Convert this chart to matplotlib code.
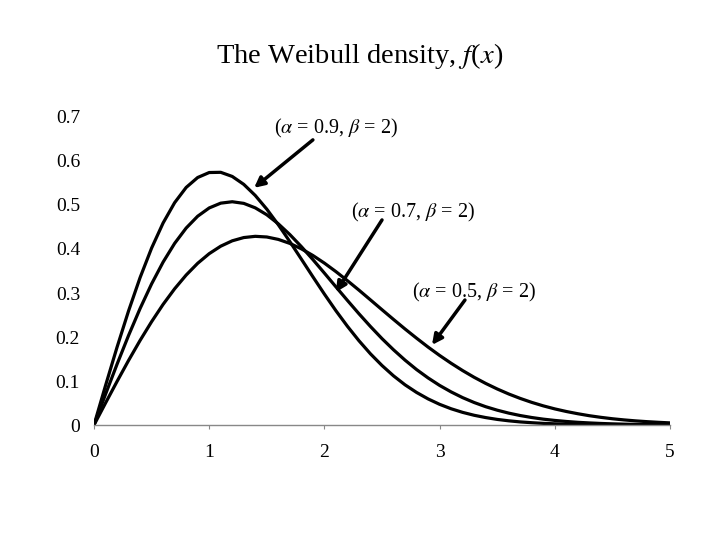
import matplotlib
matplotlib.use("Agg")
import matplotlib.pyplot as plt

plt.rcParams['font.family'] = ['Liberation Serif', 'DejaVu Serif']
plt.rcParams['mathtext.fontset'] = 'stix'

x = [round(0.1 * i, 1) for i in range(51)]

f_09 = [0.0, 0.0896, 0.1768, 0.2593, 0.3350, 0.4021, 0.4592, 0.5053, 0.5399, 0.5625,
        0.5738, 0.5743, 0.5649, 0.5469, 0.5216, 0.4905, 0.4551, 0.4168, 0.3770, 0.3369,
        0.2975, 0.2597, 0.2243, 0.1915, 0.1617, 0.1352, 0.1117, 0.0913, 0.0740, 0.0593,
        0.0470, 0.0369, 0.0287, 0.0221, 0.0169, 0.0127, 0.0095, 0.0070, 0.0052, 0.0037,
        0.0027, 0.0019, 0.0013, 0.0009, 0.0006, 0.0004, 0.0003, 0.0002, 0.0001, 0.0001,
        0.0000]
f_07 = [0.0, 0.0698, 0.1381, 0.2035, 0.2647, 0.3207, 0.3703, 0.4128, 0.4476, 0.4745,
        0.4933, 0.5042, 0.5074, 0.5037, 0.4935, 0.4778, 0.4572, 0.4328, 0.4054, 0.3760,
        0.3452, 0.3140, 0.2831, 0.2528, 0.2238, 0.1963, 0.1709, 0.1474, 0.1260, 0.1070,
        0.0900, 0.0752, 0.0622, 0.0511, 0.0416, 0.0337, 0.0270, 0.0215, 0.0170, 0.0133,
        0.0104, 0.0080, 0.0061, 0.0047, 0.0035, 0.0026, 0.0019, 0.0014, 0.0010, 0.0007,
        0.0005]
f_05 = [0.0, 0.0499, 0.0990, 0.1467, 0.1922, 0.2348, 0.2742, 0.3096, 0.3408, 0.3675,
        0.3894, 0.4064, 0.4186, 0.4260, 0.4288, 0.4273, 0.4218, 0.4127, 0.4004, 0.3853,
        0.3679, 0.3486, 0.3280, 0.3065, 0.2843, 0.2620, 0.2399, 0.2182, 0.1973, 0.1771,
        0.1581, 0.1403, 0.1237, 0.1084, 0.0945, 0.0819, 0.0705, 0.0604, 0.0514, 0.0435,
        0.0366, 0.0307, 0.0256, 0.0211, 0.0174, 0.0142, 0.0116, 0.0094, 0.0076, 0.0061,
        0.0048]

x_ticks = [0, 1, 2, 3, 4, 5]
y_ticks = [0, 0.1, 0.2, 0.3, 0.4, 0.5, 0.6, 0.7]
y_tick_labels = ['0', '0.1', '0.2', '0.3', '0.4', '0.5', '0.6', '0.7']

labels = [r'($\alpha$ = 0.9, $\beta$ = 2)',
          r'($\alpha$ = 0.7, $\beta$ = 2)',
          r'($\alpha$ = 0.5, $\beta$ = 2)']
label_pos = [(2.10, 0.673), (2.77, 0.484), (3.30, 0.302)]
arrow_tips = [(1.39, 0.539), (2.10, 0.302), (2.934, 0.182)]
arrow_tails = [(1.90, 0.648), (2.50, 0.466), (3.22, 0.284)]

fig = plt.figure(figsize=(7.2, 5.4), dpi=100)
ax = fig.add_axes([94/720, (540-425)/540, (670-94)/720, (425-117)/540])

for ys in (f_09, f_07, f_05):
    ax.plot(x, ys, color='black', lw=2.3, solid_capstyle='round')

ax.set_xlim(0, 5)
ax.set_ylim(0, 0.7)
for s in ('top', 'right', 'left'):
    ax.spines[s].set_visible(False)
ax.spines['bottom'].set_color('#888888')
ax.spines['bottom'].set_linewidth(1.0)
ax.set_xticks(x_ticks)
ax.set_xticklabels([str(t) for t in x_ticks])
ax.set_yticks(y_ticks)
ax.set_yticklabels(y_tick_labels)
ax.tick_params(axis='x', length=3, color='#888888', pad=11, labelsize=14)
ax.tick_params(axis='y', length=0, pad=10, labelsize=14)

for lab, pos in zip(labels, label_pos):
    ax.text(pos[0], pos[1], lab, ha='center', va='center', fontsize=14.5)
for tip, tail in zip(arrow_tips, arrow_tails):
    ax.annotate('', xy=tip, xytext=tail,
                arrowprops=dict(arrowstyle='-|>,head_length=0.6,head_width=0.3',
                                color='black', lw=2.5, shrinkA=0, shrinkB=0))

fig.text(0.5, (540-56)/540, r'The Weibull density, $f$($x$)', ha='center', va='center',
         fontsize=20.5)

fig.savefig('out.png', dpi=100, facecolor='white')
